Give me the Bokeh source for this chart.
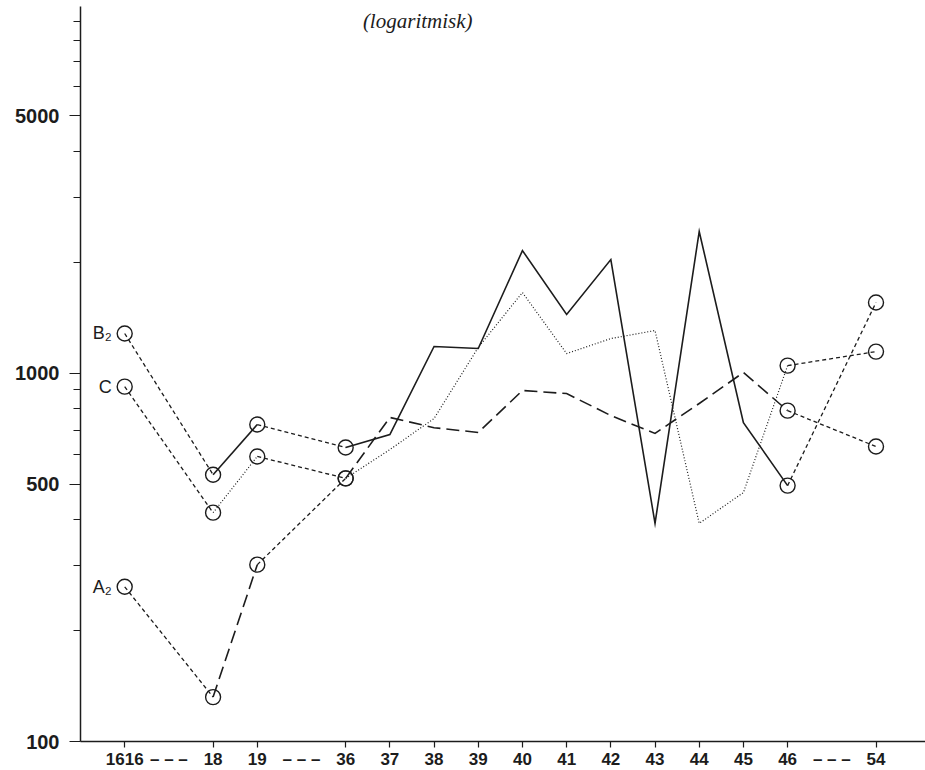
from bokeh.plotting import figure
from bokeh.models import FixedTicker, PrintfTickFormatter, ColumnDataSource
from bokeh.core.properties import value
from bokeh.embed import file_html
from bokeh.resources import INLINE

# ---- data -------------------------------------------------------------
years = ["1616", "18", "19", "36", "37", "38", "39", "40", "41", "42",
         "43", "44", "45", "46", "54"]
# slot of each year on the x axis (gaps marked with dashes take one slot)
slots = [0, 2, 3, 5, 6, 7, 8, 9, 10, 11, 12, 13, 14, 15, 17]
gap_slots = [1, 4, 16]
gap_label = "\u2013 \u2013 \u2013"

B2 = [1281, 530, 725, 628, 681, 1181, 1166, 2151, 1443, 2034, 391, 2424, 734, 495, 1555]
C = [919, 418, 594, 518, 620, 753, 1174, 1655, 1130, 1241, 1305, 391, 474, 1048, 1144]
A2 = [263, 132, 302, 518, 758, 711, 690, 897, 880, 767, 686, 827, 1004, 791, 632]

series_names = ["B\u2082", "C", "A\u2082"]
y_ticks = [100, 500, 1000, 5000]
y_minor = [200, 300, 400, 600, 700, 800, 900, 2000, 3000, 4000,
           6000, 7000, 8000, 9000]

# ---- figure -----------------------------------------------------------
INK = "#1c1c1c"
p = figure(frame_width=845, frame_height=735,
           x_range=(-1.0, 18.12), y_range=(100, 9890), y_axis_type="log",
           output_backend="svg", toolbar_location=None,
           min_border_left=80, min_border_top=6, min_border_right=0,
           min_border_bottom=0)
p.xgrid.visible = False
p.ygrid.visible = False
p.outline_line_color = None
p.background_fill_color = "white"
p.border_fill_color = "white"

# x axis: labels on every slot, tick marks (minor ticks) only on the years
labels = {s: y for s, y in zip(slots, years)}
labels.update({g: gap_label for g in gap_slots})
p.xaxis.ticker = FixedTicker(ticks=sorted(slots + gap_slots), minor_ticks=slots)
p.xaxis.major_label_overrides = labels
p.xaxis.major_tick_in = 0
p.xaxis.major_tick_out = 0
p.xaxis.minor_tick_in = 0
p.xaxis.minor_tick_out = 6
p.xaxis.minor_tick_line_color = INK
p.xaxis.minor_tick_line_width = 1.2
p.xaxis.major_label_standoff = 2
p.xaxis.major_label_text_font = "Liberation Sans"
p.xaxis.major_label_text_font_style = "bold"
p.xaxis.major_label_text_font_size = "17px"
p.xaxis.major_label_text_color = INK
p.xaxis.axis_line_color = INK
p.xaxis.axis_line_width = 1.5

# y axis
p.yaxis.ticker = FixedTicker(ticks=y_ticks, minor_ticks=y_minor)
p.yaxis.formatter = PrintfTickFormatter(format="%d")
p.yaxis.major_tick_in = 0
p.yaxis.major_tick_out = 11
p.yaxis.minor_tick_in = 0
p.yaxis.minor_tick_out = 7
p.yaxis.major_label_standoff = 10
p.yaxis.major_label_text_font = "Liberation Sans"
p.yaxis.major_label_text_font_style = "bold"
p.yaxis.major_label_text_font_size = "20px"
p.yaxis.major_label_text_color = INK
p.yaxis.axis_line_color = INK
p.yaxis.axis_line_width = 1.5
p.yaxis.major_tick_line_color = INK
p.yaxis.minor_tick_line_color = INK
p.yaxis.minor_tick_line_width = 1.2

# ---- series -----------------------------------------------------------
styles = [
    dict(line_dash="solid", line_width=1.6),
    dict(line_dash="1 2", line_width=1.2),
    dict(line_dash="13 6", line_width=1.6),
]
all_series = [B2, C, A2]

# circle points: ends of the gap connectors
circle_idx = [0, 1, 2, 3, 13, 14]
gap_pairs = [(0, 1), (2, 3), (13, 14)]
runs = [(1, 2), (3, 13)]

for vals, st in zip(all_series, styles):
    for a, b in runs:
        p.line(slots[a:b + 1], vals[a:b + 1], line_color=INK,
               line_join="miter", **st)
    for a, b in gap_pairs:
        p.line([slots[a], slots[b]], [vals[a], vals[b]], line_color=INK,
               line_dash="4 3", line_width=1.3)
    p.scatter([slots[i] for i in circle_idx], [vals[i] for i in circle_idx],
              marker="circle", size=15, fill_alpha=0, line_color=INK,
              line_width=1.4)

# series labels at the first point
lab_src = ColumnDataSource(dict(x=[slots[0]] * 3,
                                y=[B2[0], C[0], A2[0]],
                                t=series_names))
p.text(x="x", y="y", text="t", source=lab_src, text_align="right",
       text_baseline="middle", x_offset=-13, text_color=INK,
       text_font=value("Liberation Sans"), text_font_size="18px")

# caption
p.text(x=[6.63], y=[9060], text=["(logaritmisk)"], text_align="center",
       text_baseline="middle", text_color=INK,
       text_font=value("Liberation Serif"), text_font_style="italic",
       text_font_size="21px")

open("out.html", "w").write(file_html(p, INLINE))
